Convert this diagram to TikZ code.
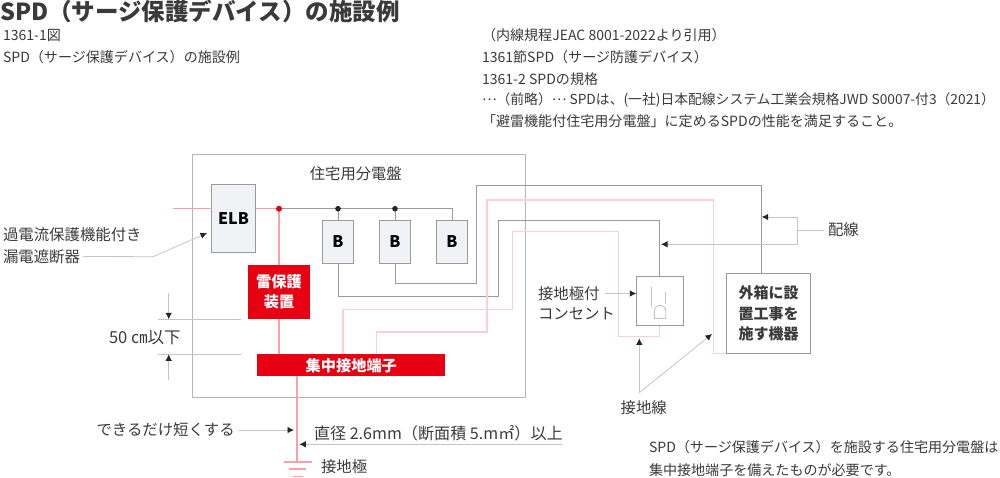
\documentclass[tikz,border=0pt]{standalone}
\usepackage{fontspec}
\setmainfont{Noto Sans CJK JP}
\usetikzlibrary{arrows.meta}
\definecolor{panelgray}{HTML}{B5B5B5}
\definecolor{wiregray}{HTML}{9A9A9A}
\definecolor{leadgray}{HTML}{C4C4C4}
\definecolor{wirepink}{HTML}{FBCFD6}
\definecolor{redline}{HTML}{F8A0AC}
\definecolor{spdred}{HTML}{E60012}
\definecolor{boxfill}{HTML}{F0F2F6}
\definecolor{ink}{HTML}{3A3A3A}
\newcommand{\middots}{\raisebox{0.32em}{…}}
\tikzset{
 x=1pt,y=-1pt,
 every node/.style={inner sep=0pt,outer sep=0pt,text=ink},
 txt/.style={anchor=west,font=\fontsize{15.4}{15.4}\selectfont},
 small/.style={anchor=west,font=\fontsize{14.05}{14.05}\selectfont},
 elem/.style={anchor=center,draw=wiregray,fill=boxfill,line width=0.9pt,text=black,font=\fontsize{16}{16}\selectfont},
 redbox/.style={anchor=center,fill=spdred,text=white,font=\bfseries\fontsize{15.2}{20}\selectfont,align=center},
 gwire/.style={draw=wiregray,line width=1pt},
 pwire/.style={draw=wirepink,line width=1.1pt},
 rwire/.style={draw=redline,line width=1.1pt},
 lead/.style={draw=leadgray,line width=0.8pt},
 arr/.style={lead,-{Latex[length=6.5pt,width=6.5pt,color=black!85]}},
}
\begin{document}
\begin{tikzpicture}
\useasboundingbox (0,0) rectangle (1000,477);
% titles
\node[anchor=west,font=\bfseries\fontsize{23.5}{23.5}\selectfont] (title) at (0,11) {SPD（サージ保護デバイス）の施設例};
\node[small] (t1) at (3,35) {1361-1図};
\node[small] (t2) at (3,57) {SPD（サージ保護デバイス）の施設例};
\node[small] (r1) at (482,35) {（内線規程JEAC 8001-2022より引用）};
\node[small] (r2) at (482,57) {1361節SPD（サージ防護デバイス）};
\node[small] (r3) at (482,79) {1361-2 SPDの規格};
\node[small,font=\fontsize{13.8}{13.8}\selectfont] (r4) at (482,100) {\middots（前略）\middots\ SPDは、(一社)日本配線システム工業会規格JWD S0007-付3（2021）};
\node[small] (r5) at (482,121) {「避雷機能付住宅用分電盤」に定めるSPDの性能を満足すること。};
% panel
\draw[panelgray,line width=0.9pt] (192.5,154.5) rectangle (525.5,397);
\node[anchor=center,font=\fontsize{15.3}{15.3}\selectfont] (pn) at (355.8,174) {住宅用分電盤};
% elements
\node[elem,minimum width=44pt,minimum height=68.5pt] (elb) at (233.5,218.2) {\bfseries ELB};
\node[elem,minimum width=31pt,minimum height=43pt] (b1) at (338,242) {\bfseries B};
\node[elem,minimum width=31pt,minimum height=43pt] (b2) at (395,242) {\bfseries B};
\node[elem,minimum width=31pt,minimum height=43pt] (b3) at (452,242) {\bfseries B};
\node[redbox,minimum width=62.6pt,minimum height=54.5pt] (spd) at (279,292.2) {雷保護\\装置};
\node[redbox,minimum width=188pt,minimum height=22pt] (bar) at (351.3,365.3) {集中接地端子};
\node[anchor=center,draw=wiregray,fill=white,line width=0.9pt,minimum width=47pt,minimum height=49.7pt] (out) at (659.8,300.8) {};
\node[anchor=center,draw=wiregray,fill=white,line width=0.9pt,minimum width=84.4pt,minimum height=80pt,font=\bfseries\fontsize{15}{20.8}\selectfont,align=center] (dev) at (768.5,313.3) {外箱に設\\置工事を\\施す機器};
% junctions
\coordinate (jr) at (279,208.7);
\coordinate (j1) at (338,208.7);
\coordinate (j2) at (395,208.7);
\coordinate (inL) at (173,208.7);
% wires
\draw[rwire] (inL) -- (elb.west |- inL);
\draw[rwire] (elb.east |- inL) -- (jr);
\draw[gwire] (jr) -- (452,208.7) -- (b3.north);
\draw[gwire] (j1) -- (b1.north);
\draw[gwire] (j2) -- (b2.north);
\draw[rwire] (jr) -- (spd.north);
\draw[rwire] (spd.south) -- (spd.south |- bar.north);
\draw[gwire] (b2.south) -- (395,283.7) -- (476.3,283.7) -- (476.3,185) -- (761.7,185) -- (761.7,273.3);
\draw[gwire] (b1.south) -- (338,296.7) -- (498.7,296.7) -- (498.7,220) -- (659.8,220) -- (out.north);
\draw[pwire] (343,354.3) -- (343,309.3) -- (512.3,309.3) -- (512.3,231.7) -- (618.3,231.7) -- (618.3,336.7) -- (659.8,336.7) -- (out.south);
\draw[pwire] (376.3,354.3) -- (376.3,332) -- (487,332) -- (487,200) -- (713.7,200) -- (713.7,353.3) -- (dev.south west);
\fill[spdred] (jr) circle (3pt);
\fill[black!85] (j1) circle (2.8pt);
\fill[black!85] (j2) circle (2.8pt);
% outlet symbol
\draw[leadgray,line width=0.9pt] (651.7,286.7) -- (651.7,306.7);
\draw[leadgray,line width=0.9pt] (665,291.7) -- (665,304.3);
\draw[leadgray,line width=0.9pt] (654.3,318.3) -- (654.3,311) arc[start angle=180,end angle=0,radius=5.7pt] -- (665.7,318.3) -- cycle;
% ground
\coordinate (g0) at (297,376.3);
\coordinate (g1) at (297,462);
\draw[rwire] (g0) -- (g1);
\draw[rwire] (284,462) -- (311.7,462);
\draw[rwire] (289.3,469) -- (306,469);
\draw[rwire] (292.7,476.4) -- (302.7,476.4);
% left labels
\node[txt] (ocp1) at (3,235) {過電流保護機能付き};
\node[txt] (ocp2) at (3,256.5) {漏電遮断器};
\coordinate (oa) at (153,256.7);
\coordinate (oe) at (207,233);
\draw[arr] ([xshift=3pt]ocp2.east) -- (oa) -- (oe);
% 50cm
\node[txt,font=\fontsize{16.5}{16.5}\selectfont] (cm) at (109,337.5) {50 ㎝以下};
\draw[lead] (158,319.3) -- (240.7,319.3);
\draw[lead] (158,354.3) -- (240.7,354.3);
\draw[arr] (168.7,293.3) -- (168.7,319.3);
\draw[arr] (168.7,380) -- (168.7,354.3);
% short
\node[txt] (sh) at (96.5,430) {できるだけ短くする};
\coordinate (shE) at (294,430);
\draw[arr] ([xshift=4pt]sh.east) -- (shE);
\node[txt,font=\fontsize{16.1}{16.1}\selectfont] (dia) at (314,433) {直径 2.6mm（断面積 5.m㎡）以上};
\coordinate (diaE) at (299.3,444.3);
\coordinate (diaS) at (561.7,444.3);
\draw[arr] (diaS) -- (diaE);
\node[txt] (gr) at (321,467) {接地極};
% right labels
\node[txt] (conn) at (538,293.5) {接地極付};
\node[txt] (conn2) at (538,313.5) {コンセント};
\draw[arr] ([xshift=5pt]conn.east) -- (out.west |- conn.east);
\node[txt] (hai) at (828,230) {配線};
\coordinate (hj) at (797.3,230);
\draw[lead] ([xshift=-4pt]hai.west) -- (hj);
\draw[arr] (hj) -- (797.3,217) -- (761.7,217);
\draw[arr] (hj) -- (797.3,244.3) -- (661,244.3);
\node[txt,anchor=center] (es) at (643.7,407.5) {接地線};
\coordinate (ea) at (639.3,392.7);
\draw[arr] (ea) -- (639.3,338.3);
\draw[arr] (ea) -- (712,334);
\node[small] (n1) at (649,447) {SPD（サージ保護デバイス）を施設する住宅用分電盤は};
\node[small] (n2) at (649,470) {集中接地端子を備えたものが必要です。};
\end{tikzpicture}
\end{document}
